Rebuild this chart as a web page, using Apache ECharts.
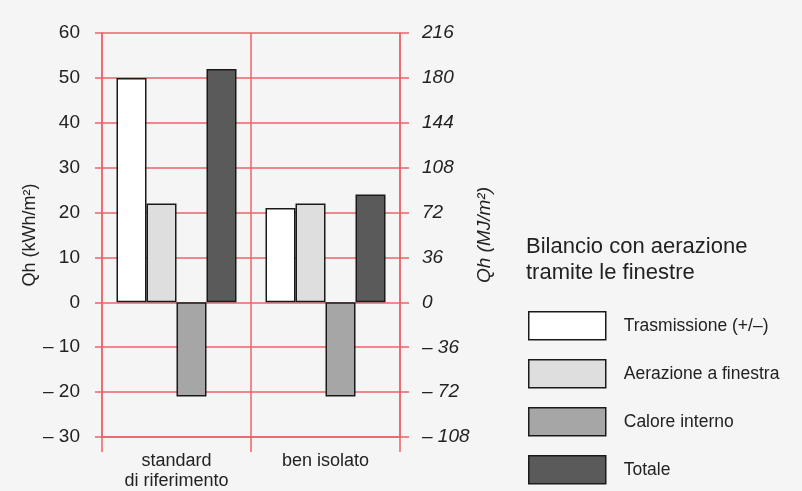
<!DOCTYPE html>
<html>
<head>
<meta charset="utf-8">
<script src="https://cdn.jsdelivr.net/npm/echarts@6/dist/echarts.min.js"></script>
<style>
html,body{margin:0;padding:0;background:#f5f5f5;}
#c{width:802px;height:491px;}
</style>
</head>
<body>
<div id="c"></div>
<script>
const categories = ['standard\ndi riferimento', 'ben isolato'];
const seriesNames = ['Trasmissione (+/–)', 'Aerazione a finestra', 'Calore interno', 'Totale'];
const trasmissione = [50, 21];
const aerazione = [22, 22];
const caloreInterno = [-21, -21];
const totale = [52, 24];
const seriesColors = ['#ffffff', '#dedede', '#a6a6a6', '#5a5a5a'];
const leftAxis = { min: -30, max: 60, interval: 10, name: 'Qh (kWh/m²)' };
const rightAxis = { min: -108, max: 216, interval: 36, name: 'Qh (MJ/m²)' };
const legendTitle = 'Bilancio con aerazione\ntramite le finestre';

const FONT = 'Liberation Sans';
const RED = '#ec626a';
const fmt = v => v < 0 ? '– ' + Math.abs(v) : String(v);

const values = [trasmissione, aerazione, caloreInterno, totale];
const chart = echarts.init(document.getElementById('c'), null, { renderer: 'canvas' });
chart.setOption({
  backgroundColor: '#f5f5f5',
  animation: false,
  textStyle: { fontFamily: FONT },
  grid: { left: 102, right: 402, top: 33, bottom: 54, containLabel: false },
  graphic: [{
    type: 'text', left: 526, top: 234,
    style: { text: legendTitle, font: '22px "Liberation Sans"', fill: '#222', lineHeight: 26 }
  }],
  legend: {
    orient: 'vertical', left: 528, top: 311, padding: 0, height: 200,
    itemWidth: 77, itemHeight: 28, itemGap: 18.5,
    icon: 'rect',
    itemStyle: { borderColor: '#1a1a1a', borderWidth: 1.5 },
    textStyle: { fontFamily: FONT, fontSize: 17.5, color: '#222', padding: [0, 0, 0, 13] },
    data: seriesNames
  },
  xAxis: {
    type: 'category', data: categories,
    axisLine: { onZero: false, lineStyle: { color: RED, width: 1.5 } },
    axisTick: { show: true, length: 15, interval: 0, lineStyle: { color: RED, width: 1.5 } },
    splitLine: { show: true, interval: 0, lineStyle: { color: RED, width: 1.5 } },
    axisLabel: { fontFamily: FONT, fontSize: 18, color: '#222', margin: 14, lineHeight: 20, interval: 0 }
  },
  yAxis: [{
    type: 'value', min: leftAxis.min, max: leftAxis.max, interval: leftAxis.interval,
    name: leftAxis.name, nameLocation: 'middle', nameGap: 60, nameRotate: 90,
    nameTextStyle: { fontFamily: FONT, fontSize: 18, color: '#222' },
    axisLine: { show: true, lineStyle: { color: RED, width: 1.5 } },
    axisTick: { show: true, length: 7, lineStyle: { color: RED, width: 1.5 } },
    splitLine: { show: true, lineStyle: { color: RED, width: 1.5 } },
    axisLabel: { fontFamily: FONT, fontSize: 19, color: '#222', margin: 22, formatter: fmt }
  }, {
    type: 'value', min: rightAxis.min, max: rightAxis.max, interval: rightAxis.interval,
    position: 'right',
    name: rightAxis.name, nameLocation: 'middle', nameGap: 75, nameRotate: 90,
    nameTextStyle: { fontFamily: FONT, fontSize: 19, color: '#222', fontStyle: 'italic' },
    axisLine: { show: true, lineStyle: { color: RED, width: 1.5 } },
    axisTick: { show: true, length: 9, lineStyle: { color: RED, width: 1.5 } },
    splitLine: { show: false },
    axisLabel: { fontFamily: FONT, fontSize: 19, color: '#222', margin: 22, fontStyle: 'italic', formatter: fmt }
  }],
  series: seriesNames.map((n, i) => ({
    name: n, type: 'bar', yAxisIndex: 0,
    data: values[i], barWidth: 30, barGap: '0%',
    itemStyle: { color: seriesColors[i], borderColor: '#1a1a1a', borderWidth: 1.5 }
  }))
});
</script>
</body>
</html>
